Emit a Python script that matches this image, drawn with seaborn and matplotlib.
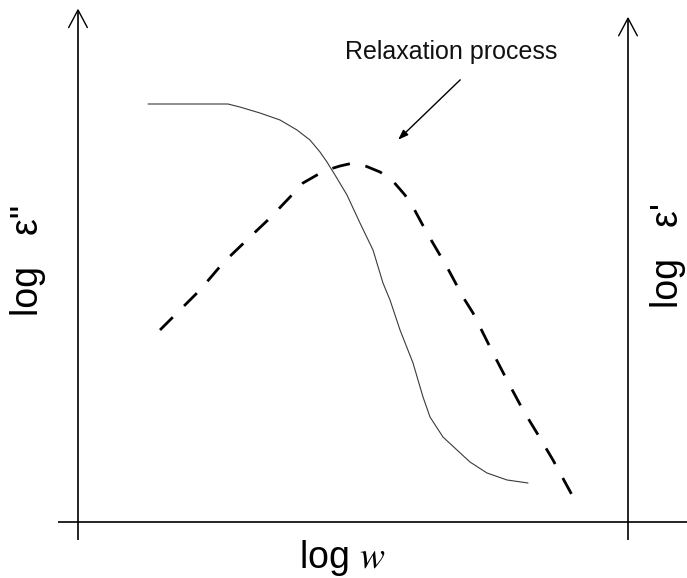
import matplotlib
matplotlib.use("Agg")
import matplotlib.pyplot as plt
import seaborn as sns
import pandas as pd

# Schematic dielectric spectrum, arbitrary units (log w on x, log eps on y)
log_w_real = [1.273, 2.036, 2.727, 2.945, 3.309, 3.673, 3.982, 4.218, 4.400,
              4.527, 4.673, 4.891, 5.127, 5.364, 5.545, 5.673, 5.855, 6.091,
              6.273, 6.400, 6.636, 6.891, 7.127, 7.436, 7.800, 8.182]
eps_real = [7.600, 7.600, 7.600, 7.545, 7.436, 7.309, 7.127, 6.945, 6.727,
            6.545, 6.309, 5.945, 5.436, 4.945, 4.345, 4.036, 3.491, 2.891,
            2.273, 1.909, 1.545, 1.309, 1.091, 0.891, 0.764, 0.709]

log_w_loss = [1.491, 1.727, 2.218, 2.636, 3.127, 3.491, 3.855, 4.091, 4.345,
              4.527, 4.764, 5.000, 5.182, 5.491, 5.709, 5.945, 6.091, 6.345,
              6.709, 7.000, 7.182, 7.545, 7.818, 8.091, 8.345, 8.636, 8.982]
eps_loss = [3.491, 3.727, 4.218, 4.709, 5.182, 5.527, 5.909, 6.164, 6.309,
            6.400, 6.473, 6.527, 6.491, 6.364, 6.218, 5.945, 5.727, 5.255,
            4.636, 4.091, 3.800, 3.073, 2.545, 2.036, 1.618, 1.127, 0.491]

x_label = "log $w$"
left_label = "log   \u03b5\""
right_label = "log   \u03b5'"
note = "Relaxation process"

sns.set_theme(style="white")
plt.rcParams["font.family"] = ["Liberation Sans", "DejaVu Sans"]
plt.rcParams["mathtext.fontset"] = "stix"

fig = plt.figure(figsize=(6.87, 5.78), dpi=100)
ax = fig.add_axes([0, 0, 1, 1])
ax.set_xlim(-78 / 55, 609 / 55)
ax.set_ylim(-56 / 55, 522 / 55)
ax.axis("off")

real_df = pd.DataFrame({"log_w": log_w_real, "eps": eps_real})
loss_df = pd.DataFrame({"log_w": log_w_loss, "eps": eps_loss})

sns.lineplot(data=real_df, x="log_w", y="eps", ax=ax, sort=False,
             estimator=None, color="#3a3a3a", linewidth=0.8)
sns.lineplot(data=loss_df, x="log_w", y="eps", ax=ax, sort=False,
             estimator=None, color="black", linewidth=2.0,
             linestyle=(0, (6.5, 5.75)))

# frame: baseline and two vertical axes with open arrow heads
axis_kw = dict(color="black", linewidth=1.2, solid_capstyle="butt")
ax.plot([-0.36, 11.2], [0, 0], **axis_kw)
for xv, top in [(0.0, 9.31), (10.0, 9.16)]:
    ax.plot([xv, xv], [-0.33, top], **axis_kw)
    ax.plot([xv - 0.17, xv, xv + 0.17], [top - 0.32, top, top - 0.32],
            color="black", linewidth=1.0)

ax.annotate("", xy=(5.82, 6.95), xytext=(6.95, 8.04),
            arrowprops=dict(arrowstyle="-|>,head_length=0.5,head_width=0.18",
                            color="black", linewidth=1.0, shrinkA=0, shrinkB=0))
ax.text(4.85, 8.545, note, fontsize=18, ha="left", va="center", color="#111")

ax.text(4.8, -0.836, x_label, fontsize=27, ha="center", va="baseline",
        color="black")
ax.text(-0.91, 4.75, left_label, fontsize=27, rotation=90, ha="center",
        va="center", color="black")
ax.text(10.72, 4.84, right_label, fontsize=27, rotation=90, ha="center",
        va="center", color="black")

fig.savefig("out.png", dpi=100, facecolor="white")
